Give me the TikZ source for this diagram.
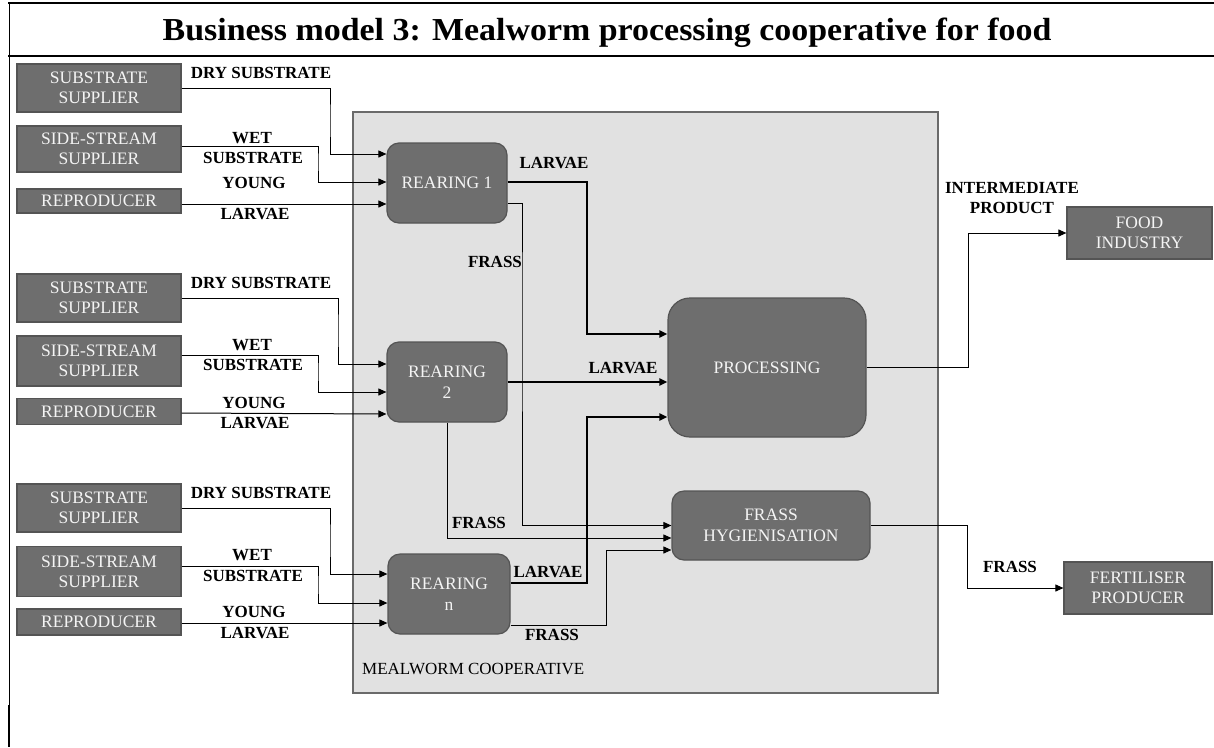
\documentclass[tikz,border=0pt]{standalone}
\usepackage{fontspec}
\setmainfont{Liberation Serif}
\usetikzlibrary{arrows.meta}
\definecolor{boxfill}{HTML}{6E6E6E}
\definecolor{boxline}{HTML}{545454}
\definecolor{coopfill}{HTML}{E1E1E1}
\definecolor{coopline}{HTML}{6A6A6A}
\definecolor{boxtext}{HTML}{F4F4F4}
\begin{document}
\begin{tikzpicture}[x=1pt,y=-1pt,
  actor/.style={draw=boxline, line width=1.2pt, fill=boxfill, text=boxtext,
    font=\fontsize{17.5}{20}\selectfont, align=center, inner sep=0pt,
    minimum width=164pt},
  stage/.style={draw=boxline, line width=1.2pt, fill=boxfill, text=boxtext,
    font=\fontsize{17.5}{21}\selectfont, align=center, inner sep=0pt,
    rounded corners=12pt},
  lbl/.style={font=\bfseries\fontsize{17}{20}\selectfont, inner sep=0pt, align=center},
  flow/.style={line width=1pt, -{Triangle[length=8pt,width=7pt]}},
  bold flow/.style={line width=2pt, -{Triangle[length=8pt,width=7pt]}},
]
\useasboundingbox (0,0) rectangle (1214,747);

% page frame and title row
\draw[line width=2.5pt] (8,3) -- (1214,3);
\draw[line width=1.2pt] (8,56) -- (1214,56);
\draw[line width=1pt] (9,3) -- (9,747);
\draw[line width=2pt] (9,705) -- (9,747);
\node[anchor=base, inner sep=0pt, font=\bfseries\fontsize{32}{34}\selectfont] (title) at (607,40)
  {\scalebox{1.06}[1]{Business model 3: Mealworm processing cooperative for food}};

% cooperative boundary
\node[draw=coopline, line width=1.5pt, fill=coopfill, minimum width=585pt, minimum height=581pt, inner sep=0pt]
  (coop) at (645.5,402.5) {};
\node[anchor=west, inner sep=0pt, font=\fontsize{17}{20}\selectfont] (cooplbl) at (362,669) {MEALWORM COOPERATIVE};

% external suppliers
\node[actor, minimum height=48pt] (sub1)  at (99,88)    {SUBSTRATE\\SUPPLIER};
\node[actor, minimum height=46pt] (side1) at (99,149)   {SIDE-STREAM\\SUPPLIER};
\node[actor, minimum height=24pt] (rep1)  at (99,201)   {REPRODUCER};
\node[actor, minimum height=48pt] (sub2)  at (99,298)   {SUBSTRATE\\SUPPLIER};
\node[actor, minimum height=50pt] (side2) at (99,361)   {SIDE-STREAM\\SUPPLIER};
\node[actor, minimum height=26pt] (rep2)  at (99,411.5) {REPRODUCER};
\node[actor, minimum height=48pt] (sub3)  at (99,508)   {SUBSTRATE\\SUPPLIER};
\node[actor, minimum height=50pt] (side3) at (99,571.5) {SIDE-STREAM\\SUPPLIER};
\node[actor, minimum height=26pt] (rep3)  at (99,622)   {REPRODUCER};

% customers
\node[actor, minimum width=145pt, minimum height=52pt] (food) at (1139.5,233) {FOOD\\INDUSTRY};
\node[actor, minimum width=148pt, minimum height=52pt] (fert) at (1138,588)   {FERTILISER\\PRODUCER};

% rearing units and processing
\node[stage, minimum width=120pt, minimum height=80pt] (R1) at (447,183) {REARING 1};
\node[stage, minimum width=120pt, minimum height=80pt] (R2) at (447,382) {REARING\\2};
\node[stage, minimum width=122pt, minimum height=80pt] (Rn) at (449,594) {REARING\\n};
\node[stage, rounded corners=22pt, minimum width=198pt, minimum height=139pt] (P) at (767,367.5) {PROCESSING};
\node[stage, minimum width=198pt, minimum height=69pt] (FH) at (771,525.5) {FRASS\\HYGIENISATION};

% inputs, unit 1
\draw[flow] (sub1.east) -| (330,120) |- ([yshift=29pt]R1.west);
\draw[flow] ([yshift=3pt]side1.east) -| (318,160) |- ([yshift=1pt]R1.west);
\draw[flow] ([yshift=-3pt]rep1.east) -- ([yshift=-21pt]R1.west);
% inputs, unit 2
\draw[flow] (sub2.east) -| (338,330) |- ([yshift=18pt]R2.west);
\draw[flow] ([yshift=6pt]side2.east) -| (318,370) |- ([yshift=-10pt]R2.west);
\draw[flow] ([yshift=-1.5pt]rep2.east) -- ([yshift=-32pt]R2.west);
% inputs, unit n
\draw[flow] (sub3.east) -| (330,540) |- ([yshift=20pt]Rn.west);
\draw[flow] ([yshift=5.5pt]side3.east) -| (318,585) |- ([yshift=-9pt]Rn.west);
\draw[flow] ([yshift=-1pt]rep3.east) -- ([yshift=-29pt]Rn.west);

% input labels
\foreach \y/\w/\s/\yo/\yl in {73/138/158/183/214, 283/345/365/403/423, 493/555/576/612/633}{
  \node[lbl] at (261,\y) {DRY SUBSTRATE};
  \node[lbl] at (252,\w) {WET};
  \node[lbl] at (253,\s) {SUBSTRATE};
  \node[lbl] at (254,\yo) {YOUNG};
  \node[lbl] at (255,\yl) {LARVAE};
}

% larvae to processing
\draw[bold flow] ([yshift=1pt]R1.east) -| (587,250) |- ([yshift=33.5pt]P.west);
\draw[bold flow] (R2.east) -- (R2.east -| P.west);
\draw[bold flow] ([yshift=11pt]Rn.east) -| (587,500) |- ([yshift=-49.5pt]P.west);
% frass to hygienisation
\draw[flow] ([yshift=-20pt]R1.east) -| (522,300) |- (FH.west);
\draw[flow] (R2.south) |- ([yshift=-12.5pt]FH.west);
\draw[flow] ([yshift=-31pt]Rn.east) -| (606,600) |- ([yshift=-24.5pt]FH.west);
% outputs
\draw[flow] (P.east) -| (968,300) |- (food.west);
\draw[flow] (FH.east) -| (967,560) |- (fert.west);

% flow labels inside and outside the cooperative
\node[lbl] (l1) at (554,163) {LARVAE};
\node[lbl] (f1) at (495,262) {FRASS};
\node[lbl] (l2) at (623,368) {LARVAE};
\node[lbl] (f2) at (479,523) {FRASS};
\node[lbl] (l3) at (548,572) {LARVAE};
\node[lbl] (f3) at (552,635) {FRASS};
\node[lbl] (ip) at (1012,198) {INTERMEDIATE\\PRODUCT};
\node[lbl] (fo) at (1010,567) {FRASS};
\end{tikzpicture}
\end{document}
